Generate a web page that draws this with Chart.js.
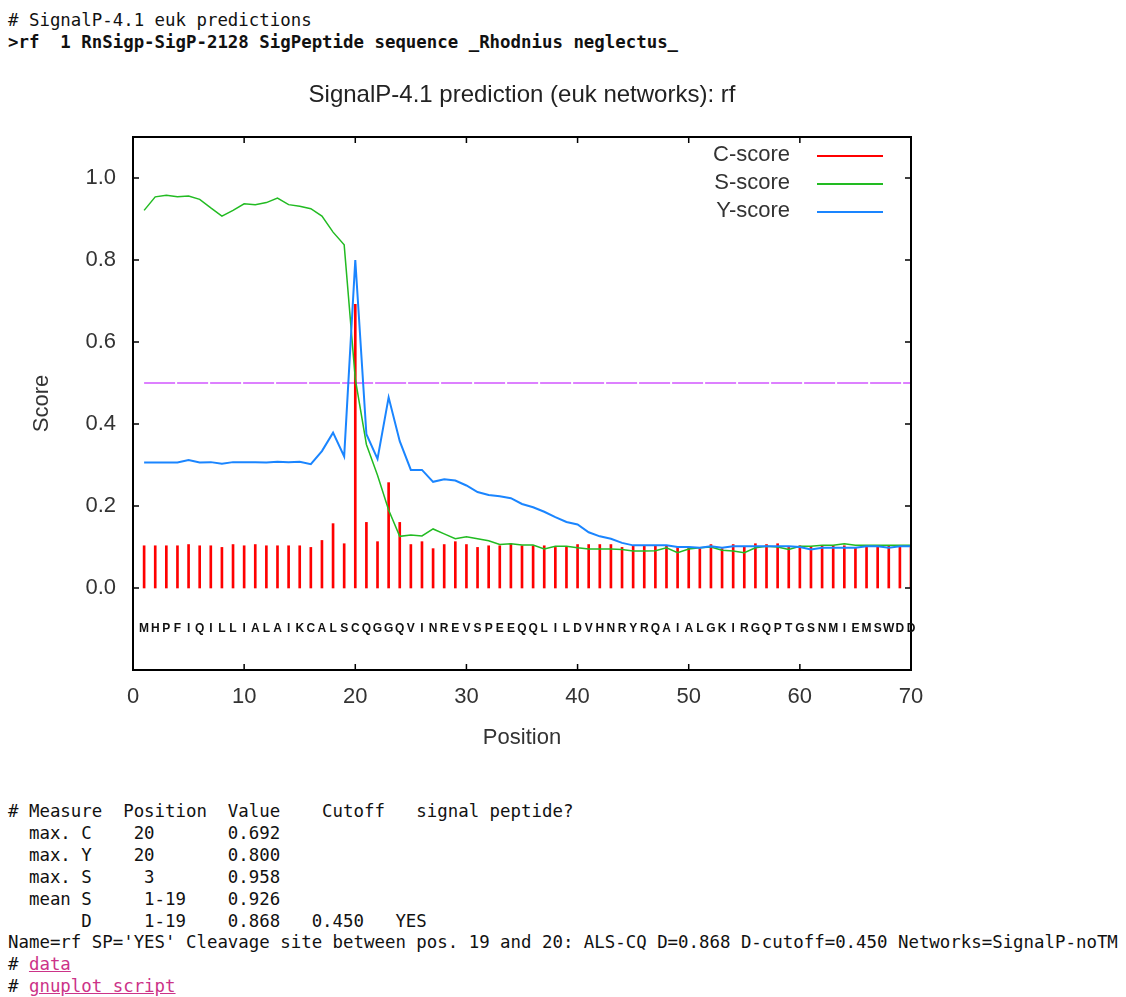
<!DOCTYPE html>
<html>
<head>
<meta charset="utf-8">
<title>SignalP-4.1 prediction (euk networks): rf</title>
<script src="https://cdn.jsdelivr.net/npm/chart.js@4.4.1/dist/chart.umd.min.js"></script>
<style>
    body { margin: 0; background: #fff; width: 1126px; height: 997px; position: relative; overflow: hidden; }
    pre { margin: 0; position: absolute; left: 8px; font-family: "DejaVu Sans Mono", "Liberation Mono", monospace; font-size: 17.4px; line-height: 22px; color: #111; }
    #head { top: 9px; }
    #tail { top: 801px; line-height: 21.9px; }
    #tail a { color: #cc3388; text-decoration: underline; }
    #wrap { position: absolute; left: 0; top: 60px; width: 1000px; height: 720px; }
</style>
</head>
<body>
<pre id="head"># SignalP-4.1 euk predictions
<b>&gt;rf  1 RnSigp-SigP-2128 SigPeptide sequence _Rhodnius neglectus_</b></pre>

<div id="wrap"><canvas id="myChart"></canvas></div>

<pre id="tail"># Measure  Position  Value    Cutoff   signal peptide?
  max. C    20       0.692
  max. Y    20       0.800
  max. S     3       0.958
  mean S     1-19    0.926
       D     1-19    0.868   0.450   YES
Name=rf SP='YES' Cleavage site between pos. 19 and 20: ALS-CQ D=0.868 D-cutoff=0.450 Networks=SignalP-noTM
# <a>data</a>
# <a>gnuplot script</a></pre>

<script>
// sekvence (pozice 1..70)
const residues = 'MHPFIQILLIALAIKCALSCQGGQVINREVSPEEQQLILDVHNRYRQAIALGKIRGQPTGSNMIEMSWDD'.split('');

const cScore = [
    0.103, 0.103, 0.103, 0.103, 0.106, 0.103, 0.103, 0.099, 0.106, 0.103,
    0.106, 0.103, 0.103, 0.103, 0.103, 0.099, 0.116, 0.157, 0.108, 0.692,
    0.160, 0.113, 0.257, 0.160, 0.106, 0.113, 0.096, 0.106, 0.113, 0.106,
    0.099, 0.103, 0.103, 0.108, 0.103, 0.103, 0.103, 0.099, 0.101, 0.106,
    0.106, 0.106, 0.106, 0.099, 0.103, 0.103, 0.103, 0.103, 0.099, 0.099,
    0.096, 0.106, 0.096, 0.106, 0.101, 0.108, 0.106, 0.108, 0.099, 0.103,
    0.101, 0.103, 0.103, 0.103, 0.099, 0.103, 0.101, 0.103, 0.103, 0.103
];
const sScore = [
    0.921, 0.954, 0.958, 0.954, 0.956, 0.948, 0.927, 0.907, 0.921, 0.937,
    0.935, 0.940, 0.951, 0.935, 0.931, 0.925, 0.907, 0.868, 0.837, 0.510,
    0.350, 0.275, 0.190, 0.126, 0.129, 0.127, 0.144, 0.132, 0.120, 0.125,
    0.120, 0.115, 0.106, 0.108, 0.105, 0.105, 0.095, 0.102, 0.102, 0.098,
    0.095, 0.095, 0.095, 0.094, 0.090, 0.090, 0.091, 0.098, 0.086, 0.095,
    0.098, 0.100, 0.092, 0.090, 0.086, 0.098, 0.102, 0.100, 0.094, 0.102,
    0.102, 0.104, 0.104, 0.108, 0.104, 0.104, 0.104, 0.104, 0.104, 0.104
];
const yScore = [
    0.306, 0.306, 0.306, 0.306, 0.312, 0.306, 0.307, 0.303, 0.307, 0.307,
    0.307, 0.306, 0.308, 0.307, 0.308, 0.302, 0.334, 0.379, 0.321, 0.800,
    0.375, 0.315, 0.465, 0.358, 0.288, 0.288, 0.259, 0.265, 0.262, 0.250,
    0.234, 0.227, 0.224, 0.219, 0.205, 0.197, 0.186, 0.173, 0.161, 0.155,
    0.136, 0.126, 0.120, 0.110, 0.104, 0.104, 0.104, 0.104, 0.100, 0.100,
    0.098, 0.102, 0.098, 0.102, 0.102, 0.102, 0.102, 0.102, 0.102, 0.100,
    0.094, 0.098, 0.098, 0.098, 0.098, 0.102, 0.102, 0.098, 0.102, 0.102
];
const cutoff = 0.5;
const seriesNames = ['C-score', 'S-score', 'Y-score'];
const xTicks = [0, 10, 20, 30, 40, 50, 60, 70];
const yTicks = [0, 0.2, 0.4, 0.6, 0.8, 1.0];

function toPoints(arr) {
    return arr.map((v, i) => ({ x: i + 1, y: v }));
}

Chart.defaults.font.family = '"Liberation Sans", Arial, sans-serif';
Chart.defaults.color = '#333';

// ramecek, vnitrni ticky, sekvence a legenda jako v gnuplotu
const gnuplotBits = {
    id: 'gnuplotBits',
    afterDraw(chart) {
        const ctx = chart.ctx;
        const a = chart.chartArea;
        const xs = chart.scales.x;
        const ys = chart.scales.y;
        ctx.save();

        ctx.strokeStyle = '#000';
        ctx.lineWidth = 2;
        ctx.strokeRect(a.left, a.top, a.right - a.left, a.bottom - a.top);

        ctx.lineWidth = 1.5;
        ctx.beginPath();
        yTicks.forEach(v => {
            const py = ys.getPixelForValue(v);
            ctx.moveTo(a.left, py); ctx.lineTo(a.left + 6, py);
            ctx.moveTo(a.right, py); ctx.lineTo(a.right - 6, py);
        });
        xTicks.slice(1, -1).forEach(v => {
            const px = xs.getPixelForValue(v);
            ctx.moveTo(px, a.bottom); ctx.lineTo(px, a.bottom - 6);
            ctx.moveTo(px, a.top); ctx.lineTo(px, a.top + 6);
        });
        ctx.stroke();

        // aminokyseliny
        ctx.fillStyle = '#111';
        ctx.font = 'bold 12px "Liberation Sans", Arial, sans-serif';
        ctx.textAlign = 'center';
        ctx.textBaseline = 'middle';
        const seqY = ys.getPixelForValue(-0.1);
        residues.forEach((r, i) => {
            ctx.fillText(r, xs.getPixelForValue(i + 1), seqY);
        });

        // legenda
        ctx.font = '22px "Liberation Sans", Arial, sans-serif';
        ctx.textAlign = 'right';
        ctx.fillStyle = '#333';
        seriesNames.forEach((name, i) => {
            const ds = chart.data.datasets[i];
            const ly = a.top + 18 + i * 28;
            ctx.fillText(name, a.right - 121, ly);
            ctx.strokeStyle = ds.borderColor || ds.backgroundColor;
            ctx.lineWidth = 2;
            ctx.beginPath();
            ctx.moveTo(a.right - 94, ly + 1);
            ctx.lineTo(a.right - 28, ly + 1);
            ctx.stroke();
        });
        ctx.restore();
    }
};

const ctx = document.getElementById('myChart');

new Chart(ctx, {
    type: 'line',
    data: {
        datasets: [{
            type: 'bar',
            label: seriesNames[0],
            data: toPoints(cScore),
            backgroundColor: '#ff0000',
            borderColor: '#ff0000',
            borderWidth: 0,
            barThickness: 2,
            order: 3
        }, {
            label: seriesNames[1],
            data: toPoints(sScore),
            borderColor: '#22bb22',
            borderWidth: 1.5,
            pointRadius: 0,
            tension: 0,
            order: 2
        }, {
            label: seriesNames[2],
            data: toPoints(yScore),
            borderColor: '#1a85ff',
            borderWidth: 2,
            pointRadius: 0,
            tension: 0,
            order: 1
        }, {
            label: 'cutoff',
            data: [{ x: 1, y: cutoff }, { x: residues.length, y: cutoff }],
            borderColor: '#dd80ff',
            borderWidth: 2,
            borderDash: [31, 2],
            pointRadius: 0,
            order: 4
        }]
    },
    options: {
        responsive: true,
        maintainAspectRatio: false,
        animation: false,
        events: [],
        layout: { padding: { left: 0, right: 89, top: 0, bottom: 0 } },
        plugins: {
            legend: { display: false },
            tooltip: { enabled: false },
            title: {
                display: true,
                fullSize: false,
                text: 'SignalP-4.1 prediction (euk networks): rf',
                color: '#222',
                font: { size: 24, weight: 'normal' },
                padding: { top: 20.6, bottom: 27.6 }
            }
        },
        scales: {
            x: {
                type: 'linear',
                min: 0,
                max: 70,
                offset: false,
                grid: { display: false, drawTicks: false },
                border: { display: false },
                afterBuildTicks: s => { s.ticks = xTicks.map(v => ({ value: v })); },
                afterFit: s => { s.height = 110; },
                ticks: { font: { size: 22 }, color: '#333', padding: 14, maxRotation: 0 },
                title: { display: true, text: 'Position', font: { size: 22 }, color: '#333', padding: { top: 0, bottom: 28.8 } }
            },
            y: {
                min: -0.2,
                max: 1.1,
                grid: { display: false, drawTicks: false },
                border: { display: false },
                afterBuildTicks: s => { s.ticks = yTicks.map(v => ({ value: v })); },
                afterFit: s => { s.width = 133; },
                ticks: { font: { size: 22 }, color: '#333', padding: 17, callback: v => v.toFixed(1) },
                title: { display: true, text: 'Score', font: { size: 22 }, color: '#333', padding: { top: 28.8, bottom: 0 } }
            }
        }
    },
    plugins: [gnuplotBits]
});
</script>
</body>
</html>
